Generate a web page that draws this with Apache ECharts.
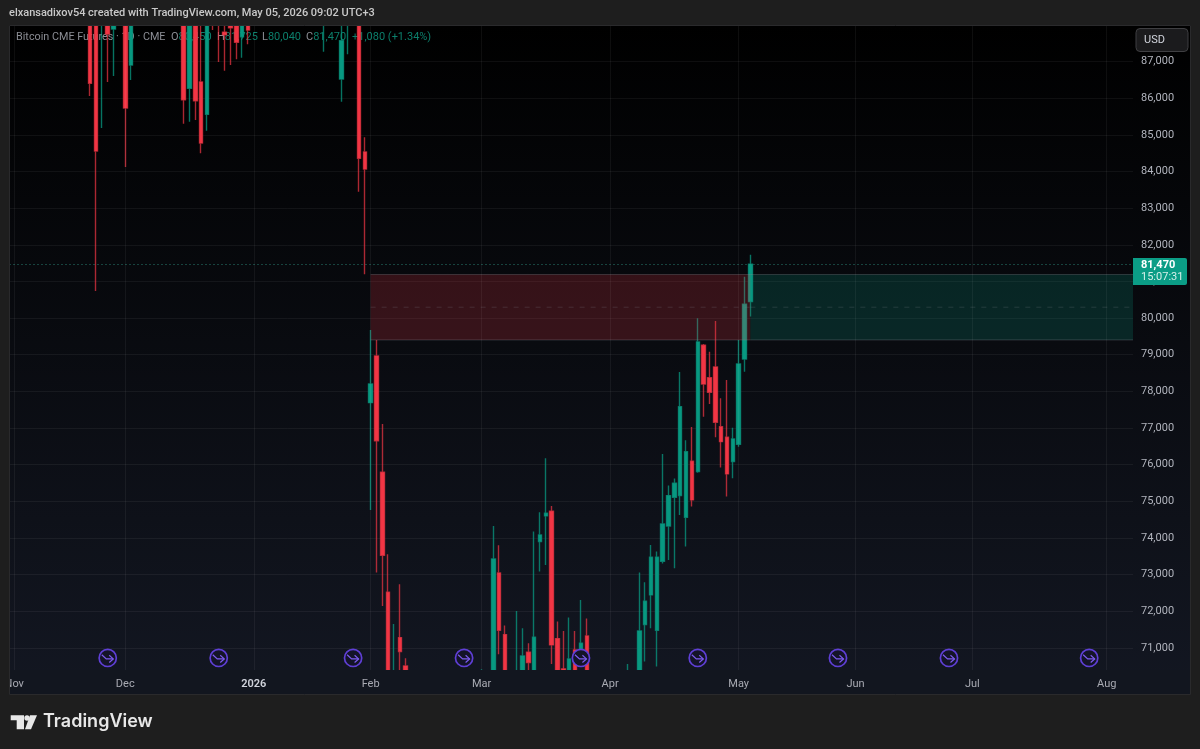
<!DOCTYPE html>
<html>
<head>
<meta charset="utf-8">
<style>html,body{margin:0;padding:0;background:#1e1e1e}#c{width:1200px;height:749px}</style>
<script src="https://cdn.jsdelivr.net/npm/echarts@6/dist/echarts.min.js"></script>
</head>
<body>
<div id="c"></div>
<script>
var slotCount = 193;
var monthTicks = {1:'Nov',20:'Dec',42:'2026',62:'Feb',81:'Mar',103:'Apr',125:'May',145:'Jun',165:'Jul',188:'Aug'};
var yTicks = [71000,72000,73000,74000,75000,76000,77000,78000,79000,80000,81000,82000,83000,84000,85000,86000,87000];
var yMin = 70397, yMax = 87996;

var barIdx = [14,15,16,17,18,20,21,30,31,32,33,34,35,36,37,38,39,40,41,54,57,58,60,61,62,63,64,65,66,67,68,81,83,84,85,87,88,89,90,91,92,93,94,95,96,97,98,99,106,108,109,110,111,112,113,114,115,116,117,118,119,120,121,122,123,124,125,126,127];
var opens  = [88300,88400,88200,88300,87887,88700,86905,88500,86269,88400,86441,85560,88500,88600,87797,88300,88300,87676,88300,88200,86523,88200,88300,84531,77692,78966,75793,72520,70100,71281,70509,70000,70200,73046,71363,70000,70300,70883,70250,73900,74601,74729,71254,70428,70200,70946,70900,71328,70100,70400,71636,72446,71483,73365,74328,75111,75155,74566,76093,75810,79258,78374,78666,77037,76748,76083,76557,78884,80450];
var closes = [86405,84558,88600,87750,88500,85731,88400,85958,88400,85931,84777,88300,88100,88200,87731,87922,87524,88200,87859,88500,87567,88600,84359,84067,78202,76649,73529,70300,70300,70900,70200,70300,73428,71483,70200,70300,70782,70599,71292,74083,74675,71082,70200,70380,70700,70250,71128,70250,70300,71464,72274,73475,73475,74383,75155,75493,77583,76355,75038,79348,78202,77976,77157,76628,75747,76702,78748,80376,81470];
var lows   = [86059,80740,85186,86441,86604,84122,86495,85303,85358,85404,84495,85112,87859,86986,86749,86905,87060,87104,87469,87267,85903,87196,83448,81195,74766,73054,72146,70200,69900,70300,70100,69900,70000,70828,70100,69800,70200,70300,70100,73082,73265,70564,70100,70300,70100,70150,70600,70100,70000,70350,70627,71538,70490,73300,73401,73175,74628,73764,74855,75780,77310,77657,76748,75919,75128,75630,76490,78538,80040];
var highs  = [88600,88700,88800,88500,88700,89000,88700,88800,88600,88600,88200,88500,88700,88800,88100,88500,88500,88400,88500,88700,88200,88800,88500,84932,79675,79402,77111,73556,71655,72738,70719,70420,74328,73802,71609,72010,71538,71128,74173,74702,76175,74874,71718,71464,71827,71464,72310,71800,70564,73055,72793,73810,73627,76292,75428,75619,78530,76666,77029,79995,79290,79083,79921,77812,78311,77010,79403,81129,81725];

var boxStart = [62,127];
var boxEnd   = [127,192];
var boxTop   = [81189,81189];
var boxBot   = [79403,79403];
var boxMid   = [80296,80296];
var lastPrice = 81470;

var eventIdx = [17,36,59,78,98,118,142,161,185];
var eventPrice = 70727;

var legendName = 'Bitcoin CME Futures · 1D · CME';
var legendFields = [['O','80,450',171],['H','81,725',217],['L','80,040',262],['C','81,470',306]];
var legendChange = '+1,080 (+1.34%)';

var categories = [];
for (var s = 0; s < slotCount; s++) categories.push(monthTicks[s] || '');

var candleData = categories.map(function(){ return ['-','-','-','-']; });
barIdx.forEach(function(b, k){ candleData[b] = [opens[k], closes[k], lows[k], highs[k]]; });

var boxData = boxStart.map(function(b, k){ return [b, boxEnd[k], boxTop[k], boxBot[k], boxMid[k], k]; });
var eventData = eventIdx.map(function(e){ return [e, eventPrice]; });

var green = '#089981', red = '#f23645';
var boxFill = ['rgba(242,54,69,0.2)','rgba(8,153,129,0.2)'];
var uiFont = 'Roboto, sans-serif';

var legendGraphics = [{type:'text',z:1,silent:true,x:16,y:37.5,style:{text:legendName,fill:'#8b8d94',fontSize:10.8,fontFamily:uiFont,verticalAlign:'middle'}}];
legendFields.forEach(function(f){
  legendGraphics.push({type:'text',z:1,silent:true,x:f[2],y:37.5,style:{
    text:'{g|'+f[0]+'}{v|'+f[1]+'}',verticalAlign:'middle',
    rich:{g:{fill:'#8b8d94',fontSize:11,fontFamily:uiFont},v:{fill:'#0c7f6c',fontSize:11,fontFamily:uiFont}}}});
});
legendGraphics.push({type:'text',z:1,silent:true,x:352,y:37.5,style:{text:legendChange,fill:'#0c7f6c',fontSize:11,fontFamily:uiFont,verticalAlign:'middle'}});

var chart = echarts.init(document.getElementById('c'), null, {renderer:'canvas'});
chart.setOption({
  animation:false,
  backgroundColor:'#1e1e1e',
  grid:{left:5.5, top:25, width:1127.5, height:645, containLabel:false},
  xAxis:{
    type:'category', data:categories, boundaryGap:true, z:10,
    axisLine:{show:false}, axisTick:{show:false},
    splitLine:{show:true, alignWithLabel:true, interval:function(i,v){return v!=='';}, lineStyle:{color:'rgba(255,255,255,0.055)',width:1}},
    axisLabel:{interval:0, margin:9, color:'#a9abb3', fontSize:11, fontFamily:uiFont, hideOverlap:false,
      formatter:function(v){return v==='2026'?'{y|2026}':v;},
      rich:{y:{color:'#d1d4dc',fontSize:11,fontWeight:600,fontFamily:uiFont}}}
  },
  yAxis:{
    type:'value', position:'right', min:yMin, max:yMax, scale:true,
    axisLine:{show:false},
    axisTick:{show:false, customValues:yTicks},
    splitLine:{show:true, lineStyle:{color:'rgba(255,255,255,0.055)',width:1}},
    axisLabel:{customValues:yTicks, margin:8, color:'#b2b5be', fontSize:11, fontFamily:uiFont,
      formatter:function(v){return v.toLocaleString('en-US');}}
  },
  series:[
    {
      type:'candlestick', data:candleData, barWidth:4, z:3,
      itemStyle:{color:green,color0:red,borderColor:'rgba(8,153,129,0.75)',borderColor0:'rgba(242,54,69,0.7)',borderWidth:1.4},
      markLine:{silent:true,symbol:'none',animation:false,label:{show:false},
        lineStyle:{color:'#2f9e8b',type:[1,3],width:1,opacity:0.8},
        data:[{yAxis:lastPrice}]}
    },
    {
      type:'custom', data:boxData, z:4, clip:true, silent:true,
      renderItem:function(params, api){
        var cs = params.coordSys;
        var x0 = api.coord([api.value(0), api.value(2)]);
        var x1 = api.coord([api.value(1), api.value(3)]);
        var mid = api.coord([api.value(0), api.value(4)])[1];
        var right = api.value(1) >= slotCount-1 ? cs.x+cs.width : x1[0];
        var edge = 'rgba(140,143,150,0.3)';
        return {type:'group',children:[
          {type:'rect',shape:{x:x0[0],y:x0[1],width:right-x0[0],height:x1[1]-x0[1]},style:{fill:boxFill[api.value(5)]}},
          {type:'line',shape:{x1:x0[0],y1:x0[1],x2:right,y2:x0[1]},style:{stroke:edge,lineWidth:1}},
          {type:'line',shape:{x1:x0[0],y1:x1[1],x2:right,y2:x1[1]},style:{stroke:edge,lineWidth:1}},
          {type:'line',shape:{x1:x0[0],y1:mid,x2:right,y2:mid},style:{stroke:'rgba(140,143,150,0.22)',lineWidth:1,lineDash:[5,6]}}
        ]};
      }
    },
    {
      type:'custom', data:eventData, z:5, clip:false, silent:true,
      renderItem:function(params, api){
        var p = api.coord([api.value(0), api.value(1)]);
        var c = '#5f3fd6', g = '#7d5cf0';
        return {type:'group',x:p[0],y:p[1],children:[
          {type:'circle',shape:{cx:0,cy:0,r:8.6},style:{fill:'#141428',stroke:c,lineWidth:1.7}},
          {type:'polyline',shape:{points:[[-6,-3.2],[-1.5,1],[5.5,1]]},style:{fill:null,stroke:g,lineWidth:1.2}},
          {type:'polyline',shape:{points:[[1.5,-2.6],[5.5,1],[1.5,4.6]]},style:{fill:null,stroke:g,lineWidth:1.2}}
        ]};
      }
    }
  ],
  graphic:[
    {type:'rect',z:-5,silent:true,shape:{x:9,y:25,width:1182,height:670},
      style:{fill:new echarts.graphic.LinearGradient(0,0,0,1,[{offset:0,color:'#000000'},{offset:1,color:'#131722'}])}}
  ].concat(legendGraphics).concat([
    {type:'rect',z:6,silent:true,shape:{x:0,y:0,width:1200,height:25},style:{fill:'#1e1e1e'}},
    {type:'rect',z:6,silent:true,shape:{x:9,y:670,width:1182,height:25},style:{fill:'#12161f'}},
    {type:'rect',z:100,silent:true,shape:{x:0,y:0,width:9,height:749},style:{fill:'#1e1e1e'}},
    {type:'rect',z:100,silent:true,shape:{x:9.5,y:25.5,width:1181,height:669},style:{fill:null,stroke:'#2a2a2c',lineWidth:1}},
    {type:'text',z:101,silent:true,x:9,y:13,style:{
      text:'elxansadixov54 created with TradingView.com, May 05, 2026 09:02 UTC+3',
      fill:'#c9c9c9',fontSize:11,fontWeight:500,fontFamily:uiFont,verticalAlign:'middle'}},
    {type:'rect',z:100,silent:true,shape:{x:1136,y:28.5,width:52,height:23,r:4},style:{fill:'#1b1b1d',stroke:'#3f3f42',lineWidth:1}},
    {type:'text',z:101,silent:true,x:1144,y:40,style:{text:'USD',fill:'#d1d4dc',fontSize:11,fontFamily:uiFont,verticalAlign:'middle'}},
    {type:'rect',z:100,silent:true,shape:{x:1133,y:258,width:54,height:27,r:[0,2,2,0]},style:{fill:'#0b9d86'}},
    {type:'text',z:101,silent:true,x:1141,y:265,style:{text:'81,470',fill:'#ffffff',fontSize:11,fontWeight:700,fontFamily:uiFont,verticalAlign:'middle'}},
    {type:'text',z:101,silent:true,x:1141,y:277,style:{text:'15:07:31',fill:'#d4efe9',fontSize:11,fontFamily:uiFont,verticalAlign:'middle'}},
    {type:'polygon',z:100,silent:true,shape:{points:[[10.7,715.3],[24,715.3],[24,729.3],[16.7,729.3],[16.7,720.3],[10.7,720.3]]},style:{fill:'#e8e8e8'}},
    {type:'circle',z:100,silent:true,shape:{cx:27,cy:718,r:2.7},style:{fill:'#e8e8e8'}},
    {type:'polygon',z:100,silent:true,shape:{points:[[30,715.3],[37,715.3],[31,729.3],[25,729.3]]},style:{fill:'#e8e8e8'}},
    {type:'text',z:101,silent:true,x:43,y:722,style:{text:'TradingView',fill:'#e8e8e8',fontSize:18,fontWeight:600,fontFamily:'Inter, sans-serif',verticalAlign:'middle'}}
  ])
});
</script>
</body>
</html>
